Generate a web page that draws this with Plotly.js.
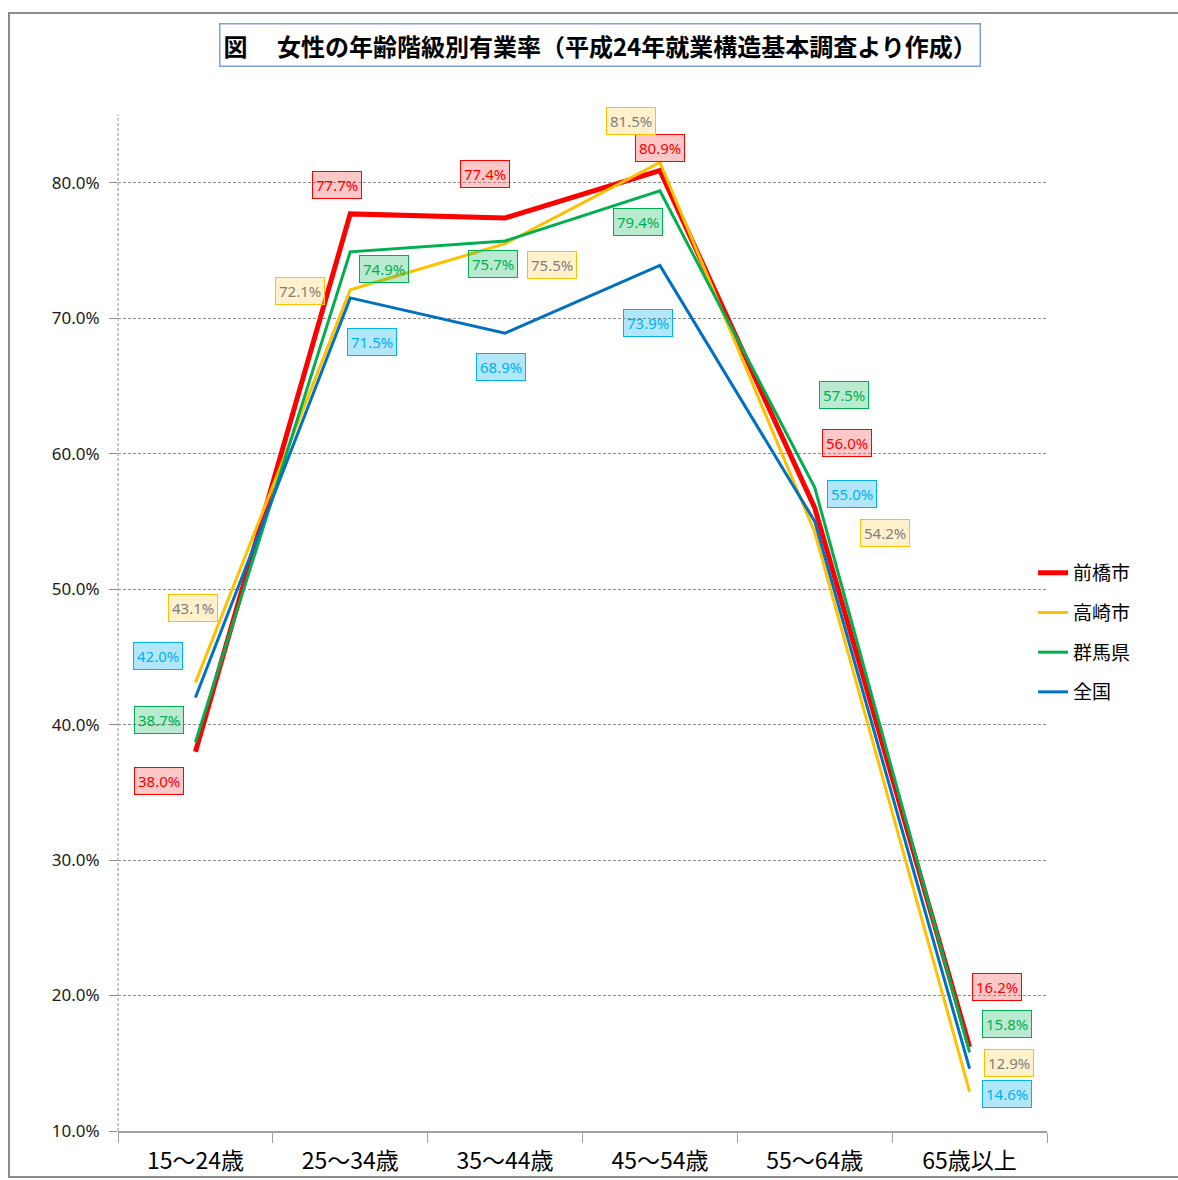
<!DOCTYPE html>
<html>
<head>
<meta charset="utf-8">
<script src="https://cdn.plot.ly/plotly-3.0.1.min.js"></script>
<style>
html,body{margin:0;padding:0;background:#fff;overflow:hidden;}
#frame{position:absolute;left:8px;top:12px;width:1200px;height:1166px;border:2px solid #8c8c8c;pointer-events:none;box-sizing:border-box;}
#chart{position:absolute;left:0;top:0;width:1178px;height:1180px;}
</style>
</head>
<body>
<div id="chart"></div>
<div id="frame"></div>
<script>
// ---- data ----
const categories = ["15～24歳", "25～34歳", "35～44歳", "45～54歳", "55～64歳", "65歳以上"];
const seriesNames = ["前橋市", "高崎市", "群馬県", "全国"];
const maebashi = [38.0, 77.7, 77.4, 80.9, 56.0, 16.2];
const takasaki = [43.1, 72.1, 75.5, 81.5, 54.2, 12.9];
const gunma    = [38.7, 74.9, 75.7, 79.4, 57.5, 15.8];
const zenkoku  = [42.0, 71.5, 68.9, 73.9, 55.0, 14.6];
const yTicks   = [10, 20, 30, 40, 50, 60, 70, 80];

// ---- label offsets (pixels from point) ----
const offX = [
  [-36, -13, -20, 0, 32, 27],
  [-2, -50, 47, -29, 70, 39],
  [-36, 34, -12, -22, 29, 37],
  [-37, 22, -4, -12, 37, 37]
];
const offY = [
  [-29, 29, 44, 23, 65, 60],
  [75, -1, -21, 41, -1, 29],
  [22, -17, -23, -31, 93, 28],
  [42, -44, -34, -58, 27, -25]
];

const allValues = [maebashi, takasaki, gunma, zenkoku];
const lineColors = ["#FF0000", "#FFC000", "#00B050", "#0070C0"];
const lineWidths = [5, 3, 3, 3];
const labelFill = ["rgba(255,110,110,0.38)", "rgba(255,225,140,0.45)", "rgba(0,176,80,0.27)", "rgba(0,176,240,0.30)"];
const labelBorder = ["#FF0000", "#FFC000", "#00B050", "#00B0F0"];
const labelText = ["#FF0000", "#7F7F7F", "#00B050", "#00B0F0"];

const traces = allValues.map((vals, i) => ({
  type: "scatter",
  mode: "lines",
  name: seriesNames[i],
  x: categories,
  y: vals,
  legendgroup: "g" + i,
  line: {color: lineColors[i], width: lineWidths[i]},
  hoverinfo: "skip"
}));

const annotations = [];
allValues.forEach((vals, i) => {
  vals.forEach((v, j) => {
    annotations.push({
      x: categories[j], y: v, xref: "x", yref: "y",
      text: v.toFixed(1) + "%",
      showarrow: false,
      xshift: offX[i][j], yshift: offY[i][j],
      font: {family: "Noto Sans, Liberation Sans, sans-serif", size: 15, color: labelText[i]},
      bgcolor: labelFill[i], bordercolor: labelBorder[i], borderwidth: 1, borderpad: 3
    });
  });
});
annotations.push({
  xref: "paper", yref: "paper", x: 0.519, y: 1.069, yanchor: "middle", xanchor: "center",
  text: "<b>図　 女性の年齢階級別有業率（平成24年就業構造基本調査より作成）</b>",
  showarrow: false,
  font: {family: "Noto Sans CJK JP, sans-serif", size: 24, color: "#000"},
  bordercolor: "#7F9FD6", borderwidth: 1.5, borderpad: 3, bgcolor: "#fff"
});

const layout = {
  width: 1178, height: 1180,
  margin: {l: 118, r: 131, t: 115, b: 49},
  paper_bgcolor: "#fff", plot_bgcolor: "#fff",
  showlegend: true,
  legend: {
    x: 0.985, xanchor: "left", y: 0.568, yanchor: "top",
    font: {family: "Noto Sans CJK JP, sans-serif", size: 19, color: "#000"},
    tracegroupgap: 12, bgcolor: "rgba(0,0,0,0)"
  },
  xaxis: {
    type: "category", range: [-0.5, 5.5],
    showline: true, linecolor: "#A0A0A0", linewidth: 1.5,
    ticks: "outside", tickson: "boundaries", ticklen: 10, tickcolor: "#A0A0A0", tickwidth: 1,
    showgrid: false, zeroline: false,
    ticklabelstandoff: 9,
    tickfont: {family: "Noto Sans CJK JP, sans-serif", size: 23, color: "#000"}
  },
  yaxis: {
    range: [10, 85], tickvals: yTicks, ticktext: yTicks.map(t => t.toFixed(1) + "%"),
    showline: false, zeroline: false,
    showgrid: true, gridcolor: "#8c8c8c", griddash: "3px,2px", gridwidth: 1,
    ticks: "outside", ticklen: 8, tickcolor: "#8c8c8c",
    ticklabelstandoff: 6,
    tickfont: {family: "Noto Sans, Liberation Sans, sans-serif", size: 17, color: "#1a1a1a"}
  },
  shapes: [{
    type: "line", xref: "paper", yref: "paper", x0: 0, x1: 0, y0: 0, y1: 1,
    line: {color: "#8c8c8c", width: 1, dash: "3px,2px"}
  }],
  annotations: annotations
};

Plotly.newPlot("chart", traces, layout, {displayModeBar: false, staticPlot: true});
</script>
</body>
</html>
